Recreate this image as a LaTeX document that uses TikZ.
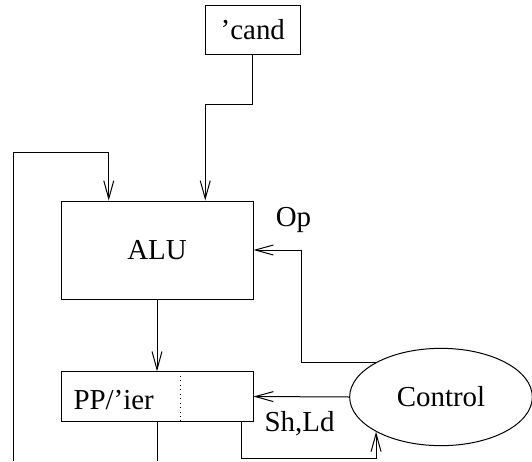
\documentclass[tikz,border=0pt]{standalone}
\usepackage{fontspec}
\setmainfont{Liberation Serif}
\usetikzlibrary{arrows.meta,calc,shapes.geometric}

\tikzset{every picture/.style={line width=0.75pt}}
\tikzset{
  regbox/.style={draw, rectangle, inner sep=0pt},
  ctrlshape/.style={draw, ellipse, inner sep=0pt, minimum width=137pt, minimum height=73pt},
  wire/.style={-{Straight Barb[length=13.5pt,width=7.5pt,line width=0.75pt]}},
  lbl/.style={inner sep=0pt}
}

\begin{document}
\begin{tikzpicture}[x=0.75pt,y=0.75pt,yscale=-1,xscale=1,font=\fontsize{21.7}{26}\selectfont]
	\useasboundingbox (0,0) rectangle (532,461);

	%Shape: Rectangle ['cand]
	\node[regbox, minimum width=71.5pt, minimum height=36.5pt] (cand) at (252.8,30) {’cand};
	%Shape: Rectangle [ALU]
	\node[regbox, minimum width=144pt, minimum height=73.5pt] (alu) at (157,250) {ALU};
	%Shape: Rectangle [PP/'ier]
	\node[regbox, minimum width=144pt, minimum height=37pt] (pp) at (157,396.5) {};
	%Shape: Ellipse [Control]
	\node[ctrlshape] (ctrl) at (441,397) {Control};

	% ALU inputs and free ends
	\coordinate (ain1) at ($(alu.north west)!0.25!(alu.north east)$);
	\coordinate (ain2) at ($(alu.north west)!0.75!(alu.north east)$);
	\coordinate (fb) at (13,461);
	\coordinate (out) at (157,461);

	%Dotted Line
	\draw[dash pattern=on 0.75pt off 2.6pt] ($(pp.north west)+(120,0)$) -- ($(pp.south west)+(120,0)$);

	%Straight Lines
	\draw[wire] (cand.south) -- ++(0,49.5) -| (ain2);
	\draw[wire] (fb) -- ++(0,-308.5) -| (ain1);
	\draw[wire] (alu.south) -- (pp.north);
	\draw[wire] (ctrl.north west) -| ($(alu.east)+(48,0)$) -- (alu.east);
	\draw[wire] (ctrl.west) -- (pp.east);
	\draw[wire] ($(pp.south east)+(-12,0)$) -- ++(0,37) -| (ctrl.south west);
	\draw (pp.south) -- (out);

	% Text Node
	\node[lbl, anchor=base west] (pplbl) at (73,409) {PP/’ier};
	% Text Node
	\node[lbl] (oplbl) at (293.5,220) {Op};
	% Text Node
	\node[lbl] (shld) at (299.5,424) {Sh,Ld};

\end{tikzpicture}
\end{document}
